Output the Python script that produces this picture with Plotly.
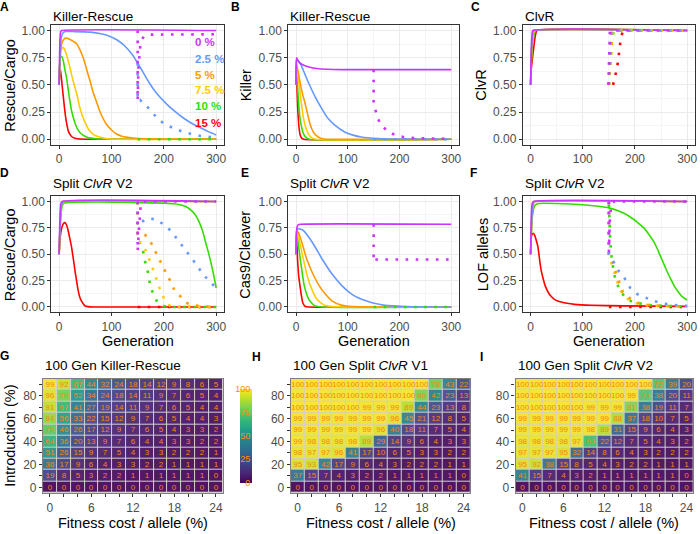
import plotly.graph_objects as go

W, H = 700, 534

# ---------------- shared labels / colours ----------------
cost_labels = ["0 %", "2.5 %", "5 %", "7.5 %", "10 %", "15 %"]
cost_colors = ["#CC33FF", "#6699FF", "#FF9900", "#FFCC00", "#33DD00", "#FF0000"]
gen_ticks = [0, 100, 200, 300]
freq_ticks = [0, 0.25, 0.5, 0.75, 1.0]
freq_ticktext = ["0.00", "0.25", "0.50", "0.75", "1.00"]

# ---------------- Panel A: Killer-Rescue, Rescue/Cargo ----------------
A_solid_0 = [(0, .5), (1, .82), (2, .95), (3, .99), (5, 1), (300, 1)]
A_solid_2_5 = [(0, .5), (2, .8), (4, .93), (7, .975), (12, .99), (30, .99), (60, .985), (80, .97), (95, .95),
               (110, .915), (125, .86), (141, .77), (150, .7), (160, .62), (172, .52), (185, .43), (204, .33),
               (220, .26), (236, .2), (252, .15), (268, .11), (285, .07), (300, .04)]
A_solid_5 = [(0, .5), (2, .78), (5, .88), (9, .92), (14, .93), (20, .92), (27, .9), (33, .88), (40, .82), (46, .75),
             (51, .67), (55, .6), (60, .52), (65, .43), (71, .35), (77, .265), (83, .2), (90, .14), (100, .085),
             (109, .05), (120, .028), (141, .012), (170, .003), (200, 0), (300, 0)]
A_solid_7_5 = [(0, .5), (2, .75), (4, .82), (7, .845), (10, .83), (14, .78), (18, .71), (22, .63), (26, .55), (30, .48),
               (35, .39), (39, .3), (44, .22), (49, .16), (54, .11), (58, .08), (65, .045), (77, .02), (90, .007),
               (110, 0), (300, 0)]
A_solid_10 = [(0, .5), (1, .68), (3, .76), (5, .76), (8, .72), (11, .64), (14, .57), (17, .47), (20, .37), (23, .28),
              (27, .2), (31, .14), (35, .095), (40, .06), (46, .037), (55, .015), (70, .004), (90, 0), (300, 0)]
A_solid_15 = [(0, .5), (1, .6), (2, .64), (3, .62), (5, .53), (8, .39), (10, .3), (12, .22), (15, .13), (18, .07),
              (22, .035), (27, .015), (35, .004), (50, 0), (300, 0)]
A_dot_0 = [(150, 1), (150, .36), (151.5, .65), (153, .8), (155, .86), (158, .92), (163, .95), (175, .962), (300, .965)]
A_dot_2_5 = [(150, .7), (150, .35), (155, .36), (160, .33), (170, .29), (180, .235), (190, .18), (205, .13),
             (220, .1), (235, .07), (255, .045), (270, .03), (290, .02), (300, .017)]
A_dot_10 = [(150, 0), (300, 0)]

# ---------------- Panel B: Killer-Rescue, Killer ----------------
B_solid_0 = [(0, .5), (1, .75), (4, .72), (8, .7), (15, .68), (25, .665), (40, .65), (60, .643), (90, .64), (300, .64)]
B_solid_2_5 = [(0, .5), (1, .74), (5, .72), (10, .68), (17, .6), (25, .51), (37, .39), (50, .28), (62, .19), (75, .13),
               (94, .067), (110, .038), (126, .02), (159, .006), (200, .001), (300, 0)]
B_solid_5 = [(0, .5), (1, .7), (3, .65), (6, .57), (10, .47), (14, .39), (17, .34), (20, .28), (24, .2), (27, .14),
             (31, .09), (35, .055), (40, .03), (46, .012), (55, .003), (65, 0), (300, 0)]
B_solid_7_5 = [(0, .5), (1, .68), (3, .6), (6, .5), (9, .38), (12, .27), (15, .18), (18, .12), (21, .08), (25, .04),
               (30, .015), (38, 0), (300, 0)]
B_solid_10 = [(0, .5), (1, .66), (2, .57), (3, .48), (4.5, .36), (6, .27), (8, .18), (10, .13), (13, .07), (16, .037),
              (20, .015), (26, 0), (300, 0)]
B_solid_15 = [(0, .5), (1, .62), (2, .45), (3, .32), (4, .22), (6, .1), (8, .04), (11, .01), (15, 0), (300, 0)]
B_dot_0 = [(150, .64), (150, .33), (152, .3), (157, .2), (164, .135), (177, .073), (192, .037), (210, .018),
           (230, .01), (260, .006), (300, .004)]
B_dot_2_5 = [(150, 0), (300, 0)]

# ---------------- Panel C: ClvR ----------------
C_solid_0 = [(0, .5), (1, .75), (2, .9), (3, .97), (4, 1), (300, 1)]
C_solid_2_5 = [(0, .5), (1, .72), (2, .86), (3, .94), (5, .99), (6, 1), (300, 1)]
C_solid_5 = [(0, .5), (1, .7), (3, .9), (5, .97), (7, 1), (300, 1)]
C_solid_7_5 = [(0, .5), (1, .68), (3, .87), (5, .95), (7, .99), (8, 1), (300, 1)]
C_solid_10 = [(0, .5), (1, .67), (3, .83), (5, .92), (7, .97), (9, 1), (300, 1)]
C_solid_15 = [(0, .5), (1, .63), (3, .72), (5, .8), (7, .88), (9, .95), (11, .99), (12, 1), (300, 1)]
C_dot_0 = [(149, .5), (150, .8), (151, .95), (152, 1), (300, 1)]
C_dot_2_5 = [(150, .5), (151, .72), (153, .93), (155, .99), (156, 1), (300, 1)]
C_dot_5 = [(150, .5), (152, .7), (154, .88), (156, .97), (158, 1), (300, 1)]
C_dot_7_5 = [(150, .5), (152, .65), (154, .82), (156, .93), (158, .98), (160, 1), (300, 1)]
C_dot_10 = [(150, .5), (152, .6), (153, .69), (154, .77), (155, .87), (157, .95), (160, 1), (300, 1)]
C_dot_15 = [(158, .5), (161, .55), (164, .62), (167, .7), (169, .78), (171, .86), (173, .93), (176, .98), (180, 1),
            (300, 1)]

# ---------------- Panel D: Split ClvR V2, Rescue/Cargo ----------------
D_solid_0 = [(0, .5), (1, .75), (2, .9), (3, .97), (5, 1), (300, 1)]
D_solid_2_5 = [(0, .5), (2, .8), (4, .95), (6, .99), (8, 1), (300, 1)]
D_solid_5 = [(0, .5), (2, .8), (4, .95), (6, .99), (8, 1), (300, 1)]
D_solid_7_5 = [(0, .5), (2, .8), (4, .95), (6, .99), (8, 1), (300, 1)]
D_solid_10 = [(0, .5), (2, .75), (4, .9), (6, .96), (9, .985), (15, .99), (100, .995), (150, .99), (200, .985),
              (220, .98), (230, .97), (242, .953), (255, .905), (262, .86), (268, .8), (274, .72), (280, .61),
              (285, .52), (289, .44), (293, .355), (297, .26), (300, .18)]
D_solid_15 = [(0, .5), (2, .66), (5, .75), (8, .79), (11, .8), (14, .78), (17, .73), (20, .66), (23.5, .575), (27, .46),
              (30, .355), (33, .26), (36, .167), (39, .1), (42.5, .057), (46, .03), (49, .012), (55, .003), (65, 0),
              (300, 0)]
D_dot_0 = [(150, 1), (150, .53), (152, .7), (154, .9), (156, .98), (160, 1), (300, 1)]
D_dot_2_5 = [(150, 1), (150, .77), (155, .8), (170, .84), (186, .83), (200, .78), (214, .72), (225, .65), (235, .585),
             (245, .52), (255, .45), (265, .38), (275, .31), (288, .24), (296, .2)]
D_dot_5 = [(150, 1), (150, .7), (155, .72), (165, .68), (172, .64), (180, .57), (188, .48), (198, .39), (205, .31),
           (214, .235), (220, .16), (233, .09), (245, .035), (258, .015), (275, .005), (300, 0)]
D_dot_7_5 = [(150, 1), (150, .63), (157, .61), (166, .53), (174, .43), (180, .355), (185, .28), (190, .2), (197, .12),
             (203, .05), (212, .01), (225, 0), (300, 0)]
D_dot_10 = [(150, 1), (150, .65), (153, .62), (160, .545), (163, .45), (168, .37), (171, .29), (174, .2), (179, .135),
            (188, .04), (200, .01), (210, 0), (300, 0)]
D_dot_15 = [(150, 0), (300, 0)]

# ---------------- Panel E: Split ClvR V2, Cas9/Cleaver ----------------
E_solid_0 = [(0, .5), (1, .7), (2, .76), (4, .78), (8, .785), (300, .785)]
E_solid_2_5 = [(0, .5), (2, .74), (13, .73), (32, .61), (51, .45), (70, .31), (89, .2), (108, .12), (128, .07),
               (147, .04), (172, .015), (210, .005), (300, 0)]
E_solid_5 = [(0, .5), (2, .72), (6, .69), (12, .6), (19, .48), (25, .4), (32, .32), (45, .2), (57, .12), (70, .055),
             (89, .015), (110, .003), (150, 0), (300, 0)]
E_solid_7_5 = [(0, .5), (2, .71), (6, .64), (13, .48), (22, .29), (32, .15), (41, .07), (54, .02), (70, .004), (100, 0),
               (300, 0)]
E_solid_10 = [(0, .5), (2, .7), (5, .575), (10, .39), (16, .2), (25, .07), (35, .015), (50, 0), (300, 0)]
E_solid_15 = [(0, .5), (1, .68), (3, .45), (5, .3), (8, .19), (10, .12), (13, .04), (18, .005), (25, 0), (300, 0)]
E_dot_0 = [(150, .785), (150, .43), (152, .45), (300, .45)]
E_dot_10 = [(150, 0), (300, 0)]

# ---------------- Panel F: Split ClvR V2, LOF alleles ----------------
F_solid_0 = [(0, .5), (1, .8), (2, .93), (3, .98), (5, 1), (300, 1)]
F_solid_2_5 = [(0, .5), (2, .8), (4, .95), (6, .99), (8, 1), (300, 1)]
F_solid_5 = [(0, .5), (2, .8), (4, .95), (6, .99), (8, 1), (300, 1)]
F_solid_7_5 = [(0, .5), (2, .8), (4, .95), (6, .99), (8, 1), (300, 1)]
F_solid_10 = [(0, .5), (2, .75), (4, .88), (7, .95), (10, .97), (15, .982), (50, .982), (100, .97), (130, .955),
              (150, .94), (179, .89), (198, .83), (210, .78), (217, .75), (225, .7), (236, .62), (243, .55),
              (249, .48), (256, .4), (263, .32), (269, .26), (275, .2), (282, .15), (290, .1), (300, .065)]
F_solid_15 = [(0, .5), (2, .68), (5, .7), (8, .68), (11, .63), (14, .575), (17, .46), (20, .355), (24, .27), (28, .2),
              (36, .12), (45, .075), (52, .057), (70, .035), (84, .025), (116, .016), (179, .01), (300, .006)]
F_dot_0 = [(150, 1), (150, .52), (152, .85), (155, .98), (160, 1), (300, 1)]
F_dot_2_5 = [(150, 1), (150, .5), (160, .42), (169, .34), (177, .3), (191, .18), (205, .12), (221, .088), (236, .057),
             (252, .035), (268, .022), (286, .015), (300, .01)]
F_dot_5 = [(150, 1), (150, .5), (157, .43), (160, .39), (165, .3), (172, .21), (177, .14), (187, .095), (195, .065),
           (208, .035), (225, .02), (250, .01), (300, .004)]
F_dot_7_5 = [(150, 1), (150, .5), (156, .4), (160, .33), (165, .25), (170, .18), (178, .11), (190, .06), (205, .03),
             (230, .012), (300, .004)]
F_dot_10 = [(150, .97), (151, .8), (153, .6), (155, .48), (157, .39), (160, .31), (165, .23), (170, .17), (179, .104),
            (192, .057), (208, .035), (224, .02), (243, .013), (270, .008), (300, .005)]
F_dot_15 = [(150, 0), (300, 0)]

# ---------------- Heatmaps (rows listed from 90 % down to 0 % introduction) ----------------
fitness_costs = [0, 2, 4, 6, 8, 10, 12, 14, 16, 18, 20, 22, 24]
introductions = [0, 10, 20, 30, 40, 50, 60, 70, 80, 90]
G_rows_top_down = [
    [99, 92, 67, 44, 32, 24, 18, 14, 12, 9, 8, 6, 5],
    [96, 79, 52, 34, 24, 18, 14, 11, 9, 7, 6, 5, 4],
    [91, 67, 41, 27, 19, 14, 11, 9, 7, 6, 5, 4, 4],
    [84, 56, 33, 22, 15, 12, 9, 7, 6, 5, 4, 4, 3],
    [75, 46, 26, 17, 12, 9, 7, 6, 5, 4, 3, 3, 2],
    [64, 36, 20, 13, 9, 7, 6, 4, 4, 3, 3, 2, 2],
    [51, 26, 15, 9, 7, 5, 4, 3, 3, 2, 2, 2, 1],
    [36, 17, 9, 6, 4, 3, 3, 2, 2, 1, 1, 1, 1],
    [19, 8, 5, 3, 2, 2, 1, 1, 1, 1, 1, 1, 0],
    [0, 0, 0, 0, 0, 0, 0, 0, 0, 0, 0, 0, 0],
]
H_rows_top_down = [
    [100, 100, 100, 100, 100, 100, 100, 100, 100, 100, 78, 43, 22],
    [100, 100, 100, 100, 100, 100, 100, 100, 100, 80, 42, 23, 13],
    [100, 100, 100, 100, 100, 99, 99, 99, 89, 44, 23, 13, 8],
    [99, 99, 99, 99, 99, 99, 99, 96, 45, 21, 12, 8, 5],
    [99, 99, 99, 99, 99, 99, 96, 40, 18, 11, 7, 5, 4],
    [99, 98, 98, 98, 98, 89, 29, 14, 9, 6, 4, 3, 3],
    [98, 97, 97, 96, 41, 17, 10, 6, 5, 3, 3, 2, 2],
    [95, 93, 42, 17, 9, 6, 4, 3, 2, 2, 2, 1, 1],
    [37, 15, 7, 4, 3, 2, 2, 1, 1, 1, 1, 1, 0],
    [0, 0, 0, 0, 0, 0, 0, 0, 0, 0, 0, 0, 0],
]
I_rows_top_down = [
    [100, 100, 100, 100, 100, 100, 100, 100, 100, 100, 72, 39, 20],
    [100, 100, 100, 100, 100, 100, 100, 100, 99, 73, 38, 20, 11],
    [100, 100, 100, 100, 100, 99, 99, 99, 81, 38, 19, 11, 7],
    [99, 99, 99, 99, 99, 99, 99, 88, 37, 18, 10, 7, 5],
    [99, 99, 99, 99, 99, 98, 89, 31, 15, 9, 6, 4, 3],
    [98, 98, 98, 98, 97, 69, 22, 12, 7, 5, 4, 3, 2],
    [97, 97, 97, 95, 32, 14, 8, 6, 4, 3, 2, 2, 2],
    [95, 92, 38, 15, 8, 5, 4, 3, 2, 2, 1, 1, 1],
    [41, 15, 7, 4, 3, 2, 1, 1, 1, 1, 1, 1, 0],
    [0, 0, 0, 0, 0, 0, 0, 0, 0, 0, 0, 0, 0],
]
colorbar_ticks = [0, 25, 50, 75, 100]
fitness_tickshown = [0, 6, 12, 18, 24]
intro_tickshown = [0, 20, 40, 60, 80]

# ---------------- assemble ----------------
line_panels = [
    ("A", 1, "Killer-Rescue", "Rescue/Cargo",
     [A_solid_0, A_solid_2_5, A_solid_5, A_solid_7_5, A_solid_10, A_solid_15],
     [A_dot_0, A_dot_2_5, None, None, A_dot_10, None]),
    ("B", 2, "Killer-Rescue", "Killer",
     [B_solid_0, B_solid_2_5, B_solid_5, B_solid_7_5, B_solid_10, B_solid_15],
     [B_dot_0, B_dot_2_5, None, None, None, None]),
    ("C", 3, "ClvR", "ClvR",
     [C_solid_0, C_solid_2_5, C_solid_5, C_solid_7_5, C_solid_10, C_solid_15],
     [C_dot_0, C_dot_2_5, C_dot_5, C_dot_7_5, C_dot_10, C_dot_15]),
    ("D", 4, "Split <i>ClvR</i> V2", "Rescue/Cargo",
     [D_solid_0, D_solid_2_5, D_solid_5, D_solid_7_5, D_solid_10, D_solid_15],
     [D_dot_0, D_dot_2_5, D_dot_5, D_dot_7_5, D_dot_10, D_dot_15]),
    ("E", 5, "Split <i>ClvR</i> V2", "Cas9/Cleaver",
     [E_solid_0, E_solid_2_5, E_solid_5, E_solid_7_5, E_solid_10, E_solid_15],
     [E_dot_0, None, None, None, E_dot_10, None]),
    ("F", 6, "Split <i>ClvR</i> V2", "LOF alleles",
     [F_solid_0, F_solid_2_5, F_solid_5, F_solid_7_5, F_solid_10, F_solid_15],
     [F_dot_0, F_dot_2_5, F_dot_5, F_dot_7_5, F_dot_10, F_dot_15]),
]

# pixel geometry of panels (left, right, top, bottom)
col_px = [(51.5, 225.0), (289.5, 461.0), (525.0, 698.0)]
row_px = [(24.2, 144.5), (196.4, 313.0)]
row_title_y = [16.0, 184.0]
heat_px = [(43.2, 223.8, 379.8, 494.8), (292.0, 472.5, 379.8, 494.8), (517.8, 696.2, 379.8, 494.8)]

FONT = "Liberation Sans, Arial, Helvetica, sans-serif"
TICKC = "#4D4D4D"


def fx(p):
    return p / W


def fy(p):
    return 1 - p / H


fig = go.Figure()
layout = dict(width=W, height=H, margin=dict(l=0, r=0, t=0, b=0), autosize=False,
              paper_bgcolor="white", plot_bgcolor="white", showlegend=False,
              font=dict(family=FONT, color="black"))
annotations = []


def ann(text, x, y, size, color="black", xanchor="center", yanchor="middle", angle=0):
    annotations.append(dict(text=text, x=fx(x), y=fy(y), xref="paper", yref="paper", showarrow=False,
                            xanchor=xanchor, yanchor=yanchor, textangle=angle,
                            font=dict(family=FONT, size=size, color=color)))


row_ytitle_x = [[10, 246.5, 483], [10, 246.5, 485]]
letter_pos = {"A": (5, 6), "B": (237, 6), "C": (478, 6), "D": (5, 173), "E": (246, 173), "F": (476, 173),
              "G": (5, 357), "H": (258, 358), "I": (484, 358)}

for key, idx, title, ytitle, solids, dots in line_panels:
    r, c = divmod(idx - 1, 3)
    l, rr = col_px[c]
    t, b = row_px[r]
    xa = "x" if idx == 1 else f"x{idx}"
    ya = "y" if idx == 1 else f"y{idx}"
    order = list(range(len(cost_labels)))[::-1]
    for k in order:
        s = solids[k]
        fig.add_trace(go.Scatter(x=[p[0] for p in s], y=[p[1] for p in s], mode="lines",
                                 line=dict(color=cost_colors[k], width=1.6, shape="spline", smoothing=0.5),
                                 xaxis=xa, yaxis=ya, hoverinfo="skip"))
    for k in order:
        d = dots[k]
        if d is None:
            continue
        fig.add_trace(go.Scatter(x=[p[0] for p in d], y=[p[1] for p in d], mode="lines",
                                 line=dict(color=cost_colors[k], width=2.6, dash="2.6px,7.5px"),
                                 xaxis=xa, yaxis=ya, hoverinfo="skip"))
    axn = "" if idx == 1 else str(idx)
    layout["xaxis" + axn] = dict(domain=[fx(l), fx(rr)], anchor=ya, range=[-15, 315], tickvals=gen_ticks,
                                 showgrid=True, gridcolor="#EBEBEB", gridwidth=1,
                                 minor=dict(tickvals=[50, 150, 250], showgrid=True, gridcolor="#F5F5F5", gridwidth=0.6),
                                 showline=True, mirror=True, linecolor="#333333", linewidth=1,
                                 ticks="outside", ticklen=3, tickcolor="#333333", tickwidth=1,
                                 tickfont=dict(size=12, color=TICKC, family=FONT), zeroline=False, fixedrange=True)
    layout["yaxis" + axn] = dict(domain=[fy(b), fy(t)], anchor=xa, range=[-0.05, 1.05], tickvals=freq_ticks,
                                 ticktext=freq_ticktext,
                                 showgrid=True, gridcolor="#EBEBEB", gridwidth=1,
                                 minor=dict(tickvals=[0.125, 0.375, 0.625, 0.875], showgrid=True, gridcolor="#F5F5F5",
                                            gridwidth=0.6),
                                 showline=True, mirror=True, linecolor="#333333", linewidth=1,
                                 ticks="outside", ticklen=3, tickcolor="#333333", tickwidth=1,
                                 tickfont=dict(size=12, color=TICKC, family=FONT), zeroline=False, fixedrange=True)
    ann(title, l, row_title_y[r], 13.5, xanchor="left")
    ann(ytitle, row_ytitle_x[r][c], (t + b) / 2, 14.5, angle=-90)
    if r == 1:
        ann("Generation", (l + rr) / 2, 342, 14.5)
    lx, ly = letter_pos[key]
    ann(f"<b>{key}</b>", lx, ly, 12)

# legend text in panel A
legend_y = [41.7, 58.3, 74.0, 90.0, 106.0, 122.7]
for lab, colr, yy in zip(cost_labels, cost_colors, legend_y):
    ann(f"<b>{lab}</b>", 194, yy, 11.5, color=colr, xanchor="left")

# heatmaps
heat_panels = [("G", 7, "100 Gen Killer-Rescue", G_rows_top_down),
               ("H", 8, "100 Gen Split <i>ClvR</i> V1", H_rows_top_down),
               ("I", 9, "100 Gen Split <i>ClvR</i> V2", I_rows_top_down)]
shapes = []
for j, (key, idx, title, rows) in enumerate(heat_panels):
    l, rr, t, b = heat_px[j]
    xa, ya = f"x{idx}", f"y{idx}"
    z = rows[::-1]
    shapes.append(dict(type="rect", xref="paper", yref="paper", x0=fx(l), x1=fx(rr), y0=fy(b), y1=fy(t),
                       fillcolor="#D0D0D0", line=dict(width=0), layer="below"))
    hm = dict(x=fitness_costs, y=introductions, z=z, colorscale="Viridis", zmin=0, zmax=100,
              xgap=1, ygap=1, texttemplate="%{z}", textfont=dict(size=8, color="#F7860F", family=FONT),
              xaxis=xa, yaxis=ya, hoverinfo="skip", opacity=0.9)
    if j == 0:
        hm["colorbar"] = dict(x=fx(231), xanchor="left", y=fy(437), yanchor="middle", len=114, lenmode="pixels",
                              thickness=12, thicknessmode="pixels", tickvals=colorbar_ticks, ticks="",
                              ticklabelposition="inside", ticklabeloverflow="allow", outlinewidth=0,
                              tickfont=dict(size=9, color="#FF8C00", family=FONT))
        hm["showscale"] = True
    else:
        hm["showscale"] = False
    fig.add_trace(go.Heatmap(**hm))
    layout[f"xaxis{idx}"] = dict(domain=[fx(l), fx(rr)], anchor=ya, range=[-1, 25], tickvals=fitness_costs,
                                 ticktext=[str(v) if v in fitness_tickshown else "" for v in fitness_costs],
                                 showgrid=False, showline=True, mirror=True, linecolor="#7F7F7F", linewidth=1.2,
                                 ticks="outside", ticklen=3, tickcolor="#333333",
                                 tickfont=dict(size=12, color=TICKC, family=FONT), zeroline=False, fixedrange=True)
    layout[f"yaxis{idx}"] = dict(domain=[fy(b), fy(t)], anchor=xa, range=[-5, 95], tickvals=introductions,
                                 ticktext=[str(v) if v in intro_tickshown else "" for v in introductions],
                                 showgrid=False, showline=True, mirror=True, linecolor="#7F7F7F", linewidth=1.2,
                                 ticks="outside", ticklen=3, tickcolor="#333333",
                                 tickfont=dict(size=12, color=TICKC, family=FONT), zeroline=False, fixedrange=True)
    ann(title, l, 367, 13.5, xanchor="left")
    ann("Fitness cost / allele (%)", (l + rr) / 2, 525, 14.5)
    lx, ly = letter_pos[key]
    ann(f"<b>{key}</b>", lx, ly, 12)

ann("Introduction (%)", 10, (heat_px[0][2] + heat_px[0][3]) / 2, 14.5, angle=-90)

layout["annotations"] = annotations
layout["shapes"] = shapes
fig.update_layout(**layout)
fig.write_html("out.html", config={"displayModeBar": False},
               post_script="document.body.style.margin='0';document.body.style.padding='0';")
